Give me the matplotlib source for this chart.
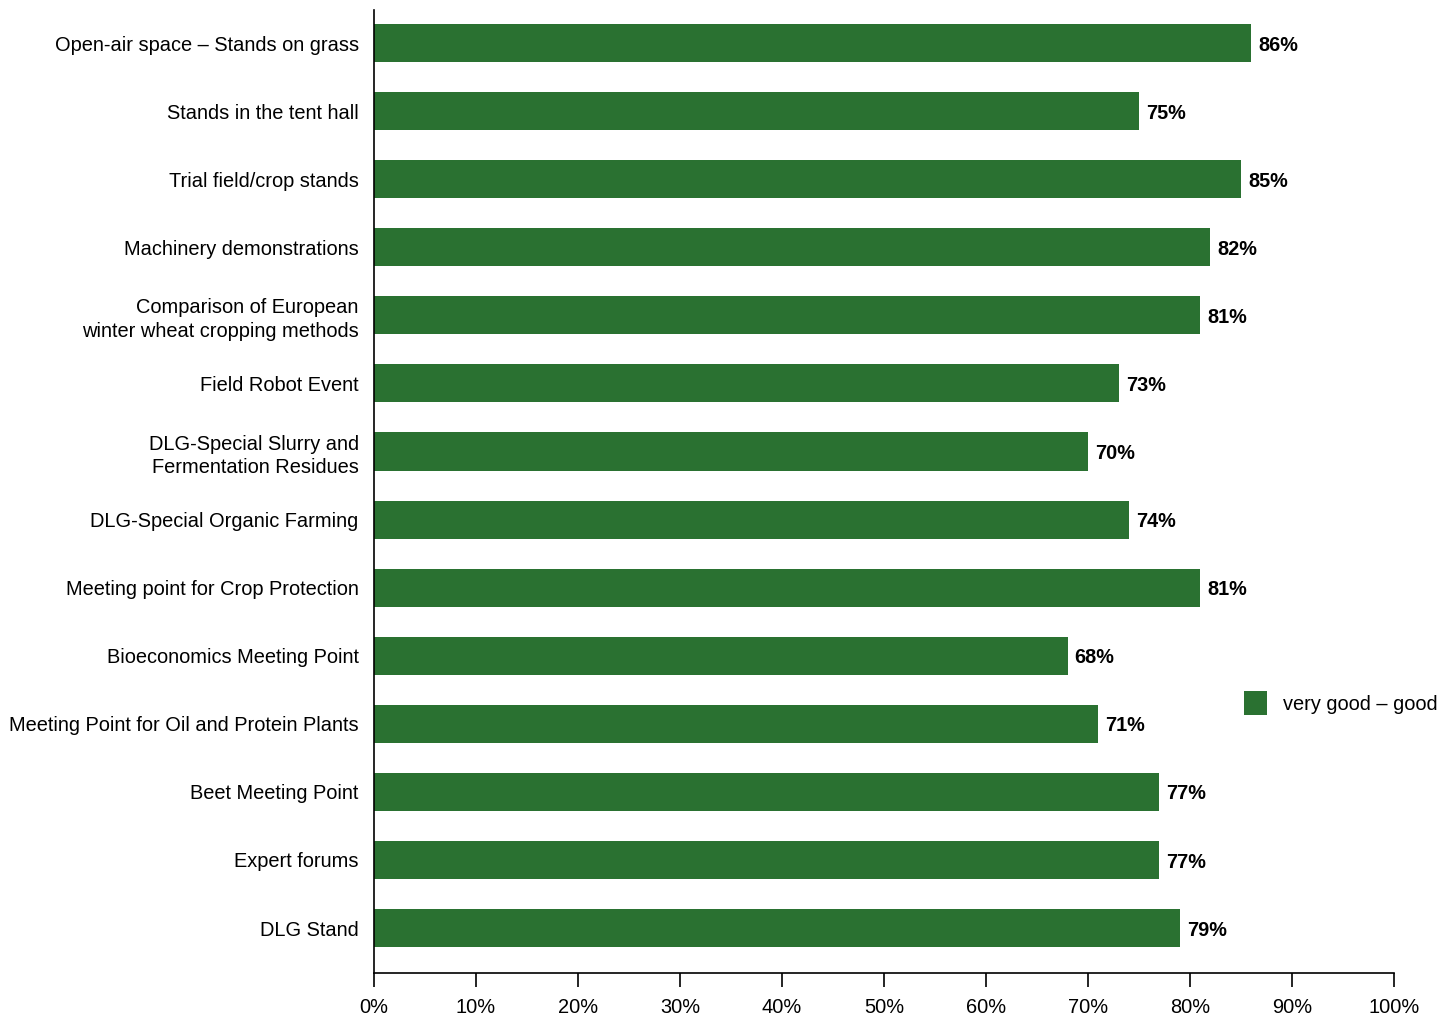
import matplotlib
matplotlib.use('Agg')
from matplotlib import pyplot as plt
from matplotlib.ticker import PercentFormatter

categories = [
    'Open-air space – Stands on grass',
    'Stands in the tent hall',
    'Trial field/crop stands',
    'Machinery demonstrations',
    'Comparison of European\nwinter wheat cropping methods',
    'Field Robot Event',
    'DLG-Special Slurry and\nFermentation Residues',
    'DLG-Special Organic Farming',
    'Meeting point for Crop Protection',
    'Bioeconomics Meeting Point',
    'Meeting Point for Oil and Protein Plants',
    'Beet Meeting Point',
    'Expert forums',
    'DLG Stand',
]
values = [86, 75, 85, 82, 81, 73, 70, 74, 81, 68, 71, 77, 77, 79]
series_name = 'very good – good'
bar_color = '#2a7131'

plt.rcParams['font.family'] = ['Liberation Sans', 'DejaVu Sans']

fig = plt.figure(figsize=(14.56, 10.19), dpi=100)
ax = fig.add_axes([374 / 1456, 1 - 973 / 1019, (1394 - 374) / 1456, (973 - 10) / 1019])

pos = list(range(len(categories)))
bars = ax.barh(pos, values, height=0.56, color=bar_color, label=series_name)
for p, v in zip(pos, values):
    ax.text(v + 0.7, p + 0.03, '{}%'.format(v), va='center', ha='left',
            fontsize=14.3, fontweight='bold')

ax.set_ylim(13.66, -0.485)
ax.set_xlim(0, 100)
ax.set_yticks(pos)
ax.set_yticklabels(categories, fontsize=14.4, linespacing=1.3)
ax.tick_params(axis='y', length=0, pad=11)
ax.set_xticks(range(0, 101, 10))
ax.xaxis.set_major_formatter(PercentFormatter(decimals=0))
ax.tick_params(axis='x', length=10, width=1.2, labelsize=14.4, pad=8)
for s in ['top', 'right']:
    ax.spines[s].set_visible(False)
for s in ['left', 'bottom']:
    ax.spines[s].set_linewidth(1.2)

fig.legend(handles=[bars], labels=[series_name], loc='center left',
           bbox_to_anchor=(1226 / 1456, 1 - 703 / 1019), frameon=False,
           fontsize=14.4, handlelength=1.15, handleheight=1.4, handletextpad=0.8)

fig.savefig('out.png', dpi=100)
